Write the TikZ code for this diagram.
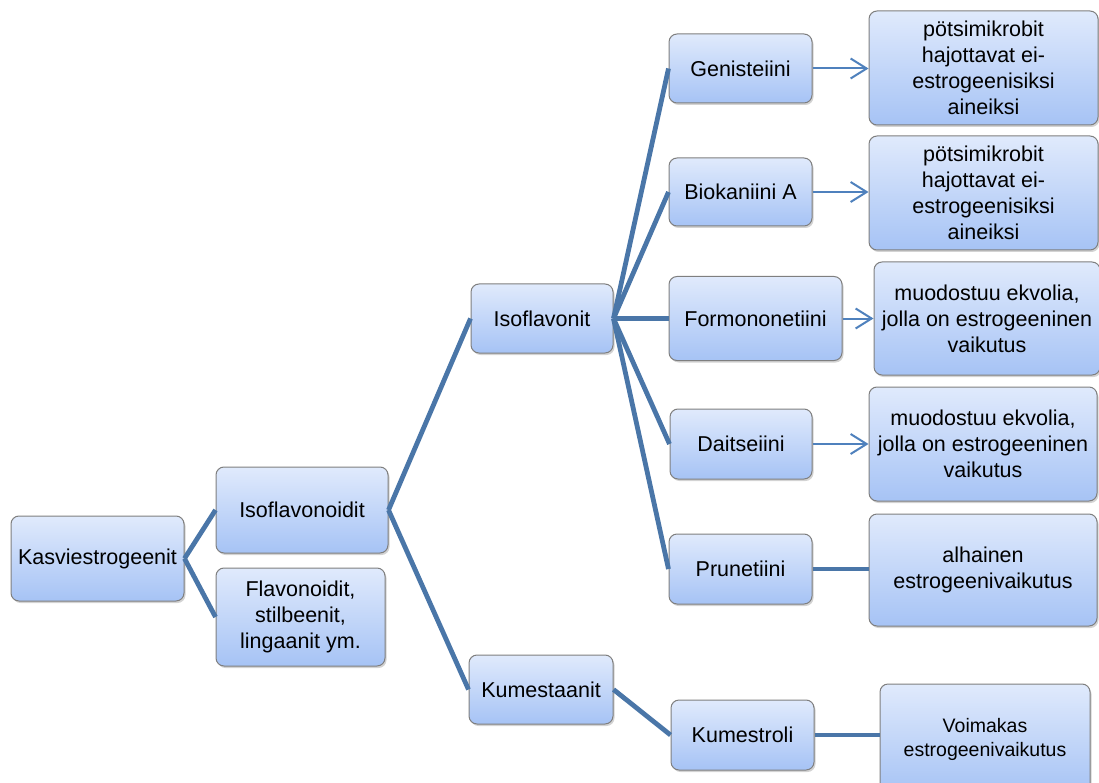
\documentclass[tikz,border=0pt]{standalone}
\usepackage{fontspec}
\setmainfont{Liberation Sans}
\usetikzlibrary{shadows,arrows.meta}
\definecolor{conn}{HTML}{4A76A8}
\definecolor{arr}{HTML}{4F81BD}
\definecolor{boxtop}{HTML}{E0EAFC}
\definecolor{boxbot}{HTML}{A6C3F5}
\definecolor{boxline}{HTML}{7F7F7F}
\tikzset{
  bx/.style={draw=boxline, line width=1pt, rounded corners=8pt,
    top color=boxtop, bottom color=boxbot, align=center, inner sep=2pt,
    font=\fontsize{21.5}{26}\selectfont,
    drop shadow={opacity=0.35, shadow xshift=1.5pt, shadow yshift=-2pt}},
  sz/.style 2 args={minimum width=#1pt, minimum height=#2pt},
  cn/.style={draw=conn, line width=4.8pt},
  ar/.style={draw=arr, line width=2pt, -{Straight Barb[length=16pt, width=20pt, line width=2pt]}},
}
\begin{document}
\begin{tikzpicture}[x=1pt,y=-1pt]
\useasboundingbox (0,0) rectangle (1099,783);
% level 1
\node[bx, sz={173}{85}] (k) at (97.5,558.5) {Kasviestrogeenit};
% level 2
\node[bx, sz={172}{86}] (iso) at (302,510) {Isoflavonoidit};
\node[bx, sz={169}{98}] (fla) at (300.5,617) {Flavonoidit,\\ stilbeenit,\\ lingaanit ym.};
% level 3
\node[bx, sz={142}{69}] (ifl) at (542,318.5) {Isoflavonit};
\node[bx, sz={144}{69}] (kum) at (541,689.5) {Kumestaanit};
% level 4
\node[bx, sz={143}{69}] (gen) at (740.5,68.5) {Genisteiini};
\node[bx, sz={143}{68}] (bio) at (740.5,192) {Biokaniini A};
\node[bx, sz={173}{84}] (for) at (755.5,318.5) {Formononetiini};
\node[bx, sz={142}{70}] (dai) at (741,444) {Daitseiini};
\node[bx, sz={143}{70}] (pru) at (740.5,569) {Prunetiini};
\node[bx, sz={143}{70}] (kst) at (742.5,735) {Kumestroli};
% level 5
\node[bx, sz={229}{114}] (t1) at (983.5,68) {pötsimikrobit\\ hajottavat ei-\\ estrogeenisiksi\\ aineiksi};
\node[bx, sz={229}{114}] (t2) at (983.5,193) {pötsimikrobit\\ hajottavat ei-\\ estrogeenisiksi\\ aineiksi};
\node[bx, sz={226}{113}] (t3) at (987,318.5) {muodostuu ekvolia,\\ jolla on estrogeeninen\\ vaikutus};
\node[bx, sz={228}{114}] (t4) at (983,444) {muodostuu ekvolia,\\ jolla on estrogeeninen\\ vaikutus};
\node[bx, sz={228}{112}] (t5) at (983,570) {alhainen\\ estrogeenivaikutus};
\node[bx, sz={210}{110}, font=\fontsize{19.5}{24}\selectfont] (t6) at (985,739) {Voimakas\\ estrogeenivaikutus};
% connectors
\draw[cn] (k.east) -- (iso.west);
\draw[cn] (k.east) -- (fla.west);
\draw[cn] (iso.east) -- (ifl.west);
\draw[cn] (iso.east) -- (kum.west);
\foreach \c in {gen,bio,for,dai,pru}{\draw[cn] (ifl.east) -- (\c.west);}
\draw[cn] (kum.east) -- (kst.west);
\draw[cn] (pru.east) -- (pru.east -| t5.west);
\draw[cn] (kst.east) -- (kst.east -| t6.west);
% arrows
\draw[ar] (gen.east) -- (gen.east -| t1.west);
\draw[ar] (bio.east) -- (bio.east -| t2.west);
\draw[ar] (for.east) -- (for.east -| t3.west);
\draw[ar] (dai.east) -- (dai.east -| t4.west);
\end{tikzpicture}
\end{document}
